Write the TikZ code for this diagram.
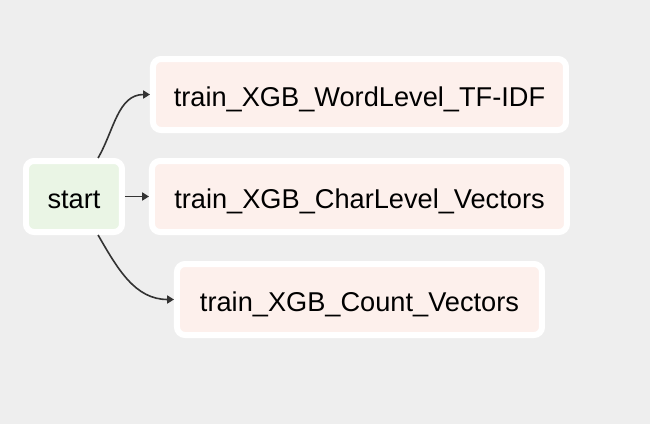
\documentclass[tikz,border=0pt]{standalone}
\usepackage{fontspec}
\setmainfont{Liberation Sans}
\usetikzlibrary{arrows.meta}
\definecolor{bggray}{HTML}{EEEEEE}
\definecolor{startfill}{HTML}{EAF5E5}
\definecolor{taskfill}{HTML}{FDF0EC}
\definecolor{edgegray}{HTML}{333333}
\begin{document}
\begin{tikzpicture}[x=0.5pt,y=-0.5pt,
    box/.style={draw=white,line width=3pt,rounded corners=4pt,
        minimum height=35.5pt,inner sep=0pt,text height=12pt,text depth=0pt,
        font=\fontsize{13.6}{16}\selectfont},
    startbox/.style={box,fill=startfill,minimum width=48pt},
    taskbox/.style={box,fill=taskfill},
    edge/.style={draw=edgegray,line width=0.8pt,
        -{Triangle[length=3.4pt,width=4pt]}}]
                  \fill[bggray] (0,0) rectangle (650,424);
                  \useasboundingbox (0,0) rectangle (650,424);
                  \node[startbox] (start) at (74,196.5) {start};
                  \node[taskbox,minimum width=206.5pt] (wordtfidf) at (359.5,94.5) {train\_XGB\_WordLevel\_TF-IDF};
                  \node[taskbox,minimum width=207.5pt] (charvec) at (359.5,196.5) {train\_XGB\_CharLevel\_Vectors};
                  \node[taskbox,minimum width=182.5pt] (countvec) at (359.5,299.5) {train\_XGB\_Count\_Vectors};
                  \draw[edge] (start.58) to[out=60,in=180] (wordtfidf.west);
                  \draw[edge] (start.east) -- (charvec.west);
                  \draw[edge] (start.-58) to[out=-60,in=180] (countvec.west);
              \end{tikzpicture}
\end{document}
